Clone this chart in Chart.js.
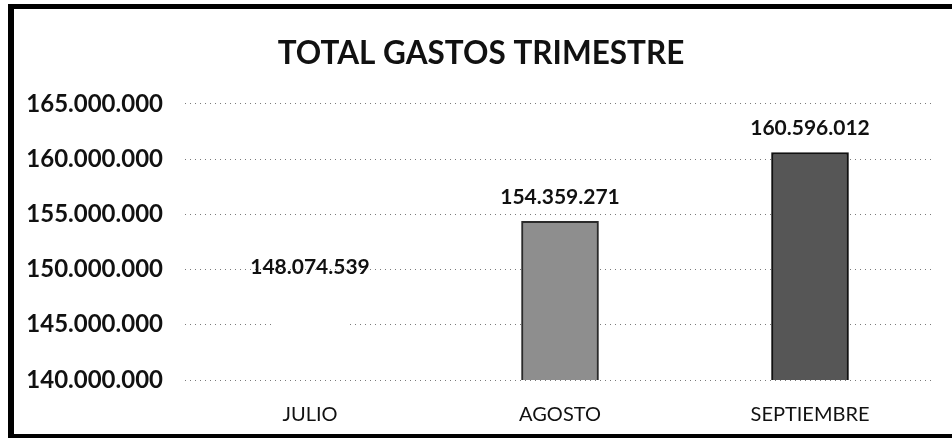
<!DOCTYPE html>
<html>
<head>
<meta charset="utf-8">
<script src="https://cdn.jsdelivr.net/npm/chart.js@4/dist/chart.umd.min.js"></script>
<style>
  html, body { margin: 0; padding: 0; background: #fff; }
  #wrap { position: relative; width: 952px; height: 442px; overflow: hidden; }
  #frame {
    position: absolute; left: 8px; top: 4px; width: 980px; height: 434px;
    border-left: 6px solid #000; border-top: 5px solid #000; border-bottom: 4px solid #000;
    box-sizing: border-box; pointer-events: none;
  }
  canvas { position: absolute; left: 0; top: 0; }
</style>
</head>
<body>
<div id="wrap">
  <canvas id="chart" width="952" height="442"></canvas>
  <div id="frame"></div>
</div>
<script>
const meses = ['JULIO', 'AGOSTO', 'SEPTIEMBRE'];
const gastos = [148074539, 154359271, 160596012];
const yMin = 140000000;
const yMax = 165000000;
const yStep = 5000000;

// colores de las barras (julio queda en blanco como en el original)
const barColors = ['#ffffff', '#8e8e8e', '#565656'];
const barBorders = ['#ffffff', '#2a2a2a', '#111111'];

const fontFamily = 'Lato, "Open Sans", sans-serif';

function formatNum(v) {
    return String(Math.round(v)).replace(/\B(?=(\d{3})+(?!\d))/g, '.');
}

// etiquetas de valor encima de cada barra
const valueLabels = {
    id: 'valueLabels',
    afterDatasetsDraw(chart) {
        const ctx = chart.ctx;
        const meta = chart.getDatasetMeta(0);
        ctx.save();
        ctx.font = 'bold 21px ' + fontFamily;
        ctx.fillStyle = '#111';
        ctx.textAlign = 'center';
        ctx.textBaseline = 'alphabetic';
        meta.data.forEach((bar, i) => {
            ctx.fillText(formatNum(gastos[i]), bar.x, bar.y - 17);
        });
        ctx.restore();
    }
};

new Chart(document.getElementById('chart'), {
    type: 'bar',
    data: {
        labels: meses,
        datasets: [{
            label: 'Total gastos',
            data: gastos,
            backgroundColor: barColors,
            borderColor: barBorders,
            borderWidth: 2,
            barThickness: 77
        }]
    },
    options: {
        responsive: false,
        animation: false,
        layout: { padding: { left: 27, right: 17, top: 0, bottom: 0 } },
        plugins: {
            legend: { display: false },
            tooltip: { enabled: false },
            title: {
                display: true,
                text: 'TOTAL GASTOS TRIMESTRE',
                color: '#111',
                font: { family: fontFamily, size: 31.5, weight: 'bold', lineHeight: 1.2 },
                padding: { top: 35, bottom: 31 }
            }
        },
        scales: {
            x: {
                grid: { display: false },
                border: { display: false },
                ticks: {
                    color: '#111',
                    padding: 15,
                    font: { family: fontFamily, size: 20 }
                },
                afterFit(scale) { scale.height = 62; }
            },
            y: {
                min: yMin,
                max: yMax,
                border: { display: false, dash: [1, 4] },
                grid: {
                    color: '#7a7a7a',
                    lineWidth: 1,
                    drawTicks: false
                },
                ticks: {
                    stepSize: yStep,
                    color: '#111',
                    padding: 22,
                    font: { family: fontFamily, size: 24, weight: 'bold' },
                    callback: (v) => formatNum(v)
                },
                afterFit(scale) { scale.width = 158; }
            }
        }
    },
    plugins: [valueLabels]
});
</script>
</body>
</html>
